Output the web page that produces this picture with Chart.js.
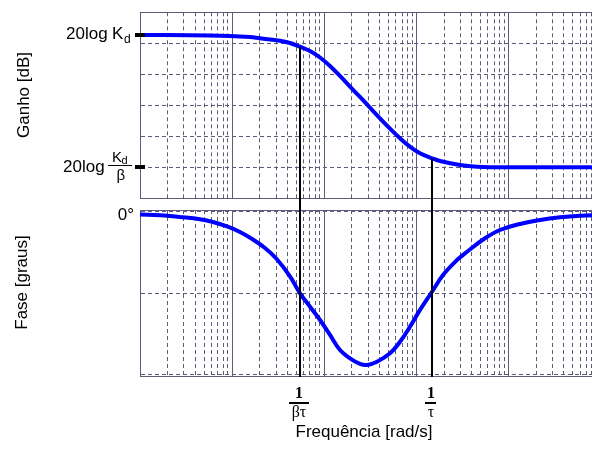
<!DOCTYPE html>
<html>
<head>
<meta charset="utf-8">
<script src="https://cdn.jsdelivr.net/npm/chart.js@4"></script>
<style>
  html, body { margin: 0; padding: 0; background: #fff; overflow: hidden; }
  #wrap { position: relative; width: 592px; height: 450px; overflow: hidden; background: #fff; }
  #wrap canvas { position: absolute; left: 0; }
  #gainChart { top: 0; }
  #phaseChart { top: 204px; }
</style>
</head>
<body>
<div id="wrap">
  <canvas id="gainChart" width="604" height="204"></canvas>
  <canvas id="phaseChart" width="604" height="246"></canvas>
</div>
<script>
/* Bode plot of a lag network: gain (top) and phase (bottom) */

// ---------------------------------------------------------------------------
// Data
// ---------------------------------------------------------------------------
const gainFreq = [0.001, 0.00575, 0.01565, 0.02009, 0.03312, 0.04253, 0.05461, 0.07012,
  0.09002, 0.1156, 0.1484, 0.1906, 0.2447, 0.3143, 0.4035, 0.5182, 0.6653, 0.8543,
  1.097, 1.481, 1.808, 2.982, 4.562, 9.9, 100];
const gainDb = [-3.66, -3.74, -3.98, -4.19, -4.58, -4.95, -5.55, -6.24,
  -7.29, -8.66, -10.27, -12.0, -13.66, -15.39, -17.1, -18.77, -20.32, -21.68,
  -22.74, -23.55, -23.98, -24.63, -24.9, -25.0, -25.0];

const phaseFreq = [0.001, 0.00165, 0.00293, 0.00448, 0.0062, 0.0088, 0.01218, 0.01686,
  0.02276, 0.0305, 0.04253, 0.05461, 0.07012, 0.09002, 0.1156, 0.1484, 0.1906, 0.2447,
  0.2915, 0.3744, 0.5182, 0.6653, 0.8543, 1.097, 1.481, 1.95, 2.766, 3.553, 5.569,
  8.105, 13.37, 22.03, 36.34, 59.9, 100];
const phaseDeg = [-1.39, -1.83, -2.94, -4.06, -5.56, -8.06, -11.1, -15.3,
  -20.0, -26.1, -35.8, -45.2, -52.6, -60.0, -68.3, -76.7, -81.3, -84.4,
  -85.0, -83.2, -78.5, -72.1, -63.7, -54.4, -44.3, -35.0, -26.7, -22.1, -14.6,
  -10.0, -6.67, -4.44, -2.94, -2.06, -1.67];

// corner frequencies 1/(beta*tau) and 1/tau
const cornerFreq = [0.0546, 1.47];
const cornerGain = [-5.55, -23.55];
const cornerNum = ["1", "1"];
const cornerDen = ["βτ", "τ"];

// gain levels marked on the axis: 20log Kd and 20log Kd/beta
const gainLevels = [-3.66, -25];

const gainTicks = [-30, -25, -20, -15, -10, -5, 0];
const phaseTicks = [-91.1, -90, -45, 0, 1.1];
const decades = [0.001, 0.01, 0.1, 1, 10];
const xMin = 0.001;
const xMax = 100;

// ---------------------------------------------------------------------------
// Shared styling
// ---------------------------------------------------------------------------
const GRID = "#5c5c7a";
const SANS = "'Liberation Sans', Arial, sans-serif";
const SERIF = "'Liberation Serif', 'Times New Roman', serif";

function isDecade(v) {
  const l = Math.log10(v);
  return Math.abs(l - Math.round(l)) < 1e-6;
}

function logTicks(scale) {
  const ticks = [];
  decades.forEach((d) => {
    for (let m = 1; m <= 9; m++) ticks.push({ value: d * m });
  });
  ticks.push({ value: xMax });
  scale.ticks = ticks;
}

function xScale() {
  return {
    type: "logarithmic",
    min: xMin,
    max: xMax,
    afterBuildTicks: logTicks,
    afterFit: (s) => { s.height = 0; },
    ticks: { display: false },
    grid: { color: GRID, lineWidth: 1, drawTicks: false },
    border: {
      color: GRID,
      width: 1,
      dash: (ctx) => (ctx.tick && !isDecade(ctx.tick.value) ? [4, 3] : []),
    },
  };
}

function yScale(tickList) {
  const lo = tickList[0];
  const hi = tickList[tickList.length - 1];
  return {
    min: lo,
    max: hi,
    afterBuildTicks: (s) => { s.ticks = tickList.map((v) => ({ value: v })); },
    afterFit: (s) => { s.width = 0; },
    ticks: { display: false },
    grid: { color: GRID, lineWidth: 1, drawTicks: false },
    border: {
      color: GRID,
      width: 1,
      dash: (ctx) => (ctx.tick && ctx.tick.value !== lo && ctx.tick.value !== hi ? [4, 3] : []),
    },
  };
}

function curve(freq, vals) {
  return {
    data: freq.map((f, i) => ({ x: f, y: vals[i] })),
    borderColor: "#0000ff",
    borderWidth: 4,
    pointRadius: 0,
    tension: 0.4,
    clip: 0,
  };
}

function baseOptions(padding, yTicks) {
  return {
    responsive: false,
    animation: false,
    events: [],
    layout: { padding },
    plugins: { legend: { display: false }, tooltip: { enabled: false } },
    scales: { x: xScale(), y: yScale(yTicks) },
  };
}

// ---------------------------------------------------------------------------
// Gain panel decorations
// ---------------------------------------------------------------------------
const gainDecor = {
  id: "gainDecor",
  afterDatasetsDraw(chart) {
    const { ctx, chartArea } = chart;
    const { x, y } = chart.scales;
    ctx.save();

    // vertical markers from the curve down through the gap
    ctx.strokeStyle = "#000";
    ctx.lineWidth = 2;
    cornerFreq.forEach((f, i) => {
      const px = Math.round(x.getPixelForValue(f));
      ctx.beginPath();
      ctx.moveTo(px, y.getPixelForValue(cornerGain[i]));
      ctx.lineTo(px, chart.height);
      ctx.stroke();
    });

    // level marks on the axis
    ctx.fillStyle = "#000";
    gainLevels.forEach((v) => {
      const py = Math.round(y.getPixelForValue(v));
      ctx.fillRect(chartArea.left - 5, py - 2, 10, 4);
    });

    const L = chartArea.left;
    ctx.textBaseline = "alphabetic";
    ctx.textAlign = "left";

    // 20log Kd
    let py = y.getPixelForValue(gainLevels[0]);
    ctx.font = "17px " + SANS;
    ctx.fillText("20log", L - 74, py + 4);
    ctx.font = "17px " + SANS;
    ctx.fillText("K", L - 28, py + 4.5);
    ctx.font = "12px " + SANS;
    ctx.fillText("d", L - 16, py + 8);

    // 20log Kd / beta
    py = y.getPixelForValue(gainLevels[1]);
    ctx.font = "17px " + SANS;
    ctx.fillText("20log", L - 77, py + 5);
    ctx.font = "15px " + SANS;
    ctx.fillText("K", L - 28, py - 5);
    ctx.font = "11px " + SANS;
    ctx.fillText("d", L - 18.5, py - 3);
    ctx.fillRect(L - 32, Math.round(py) - 2, 24, 1);
    ctx.font = "15px " + SANS;
    ctx.fillText("β", L - 23.5, py + 12.5);

    // axis title
    ctx.font = "17px " + SANS;
    ctx.translate(24, 95);
    ctx.rotate(-Math.PI / 2);
    ctx.textAlign = "center";
    ctx.textBaseline = "middle";
    ctx.fillText("Ganho [dB]", 0, 0);
    ctx.restore();
  },
};

// ---------------------------------------------------------------------------
// Phase panel decorations
// ---------------------------------------------------------------------------
const phaseDecor = {
  id: "phaseDecor",
  afterDatasetsDraw(chart) {
    const { ctx, chartArea } = chart;
    const { x, y } = chart.scales;
    ctx.save();

    ctx.strokeStyle = "#000";
    ctx.lineWidth = 2;
    ctx.fillStyle = "#000";
    cornerFreq.forEach((f, i) => {
      const px = Math.round(x.getPixelForValue(f));
      ctx.beginPath();
      ctx.moveTo(px, 0);
      ctx.lineTo(px, chartArea.bottom + 1);
      ctx.stroke();

      // fraction label under the axis
      ctx.font = "bold 16px " + SERIF;
      ctx.textAlign = "center";
      ctx.textBaseline = "alphabetic";
      ctx.fillText(cornerNum[i], px - 1, 193.5);
      ctx.font = "16px " + SERIF;
      ctx.fillText(cornerDen[i], px - 1, 212.5);
      const w = ctx.measureText(cornerDen[i]).width + 5;
      ctx.fillRect(Math.round(px - 1 - w / 2), 198, Math.round(w), 2);
    });

    // 0 degree label
    ctx.font = "17px " + SANS;
    ctx.textAlign = "right";
    ctx.textBaseline = "alphabetic";
    ctx.fillText("0°", chartArea.left - 6, y.getPixelForValue(0) + 8.5);

    // x title
    ctx.font = "17px " + SANS;
    ctx.textAlign = "center";
    ctx.textBaseline = "middle";
    ctx.fillText("Frequência [rad/s]", 364, 228.5);

    // y title
    ctx.translate(22, 78.5);
    ctx.rotate(-Math.PI / 2);
    ctx.fillText("Fase [graus]", 0, 0);
    ctx.restore();
  },
};

// ---------------------------------------------------------------------------
// Charts
// ---------------------------------------------------------------------------
new Chart(document.getElementById("gainChart"), {
  type: "line",
  data: { datasets: [curve(gainFreq, gainDb)] },
  options: baseOptions({ left: 140, right: 3.5, top: 12.3, bottom: 5.7 }, gainTicks),
  plugins: [gainDecor],
});

new Chart(document.getElementById("phaseChart"), {
  type: "line",
  data: { datasets: [curve(phaseFreq, phaseDeg)] },
  options: baseOptions({ left: 140, right: 3.5, top: 6, bottom: 74 }, phaseTicks),
  plugins: [phaseDecor],
});
</script>
</body>
</html>
